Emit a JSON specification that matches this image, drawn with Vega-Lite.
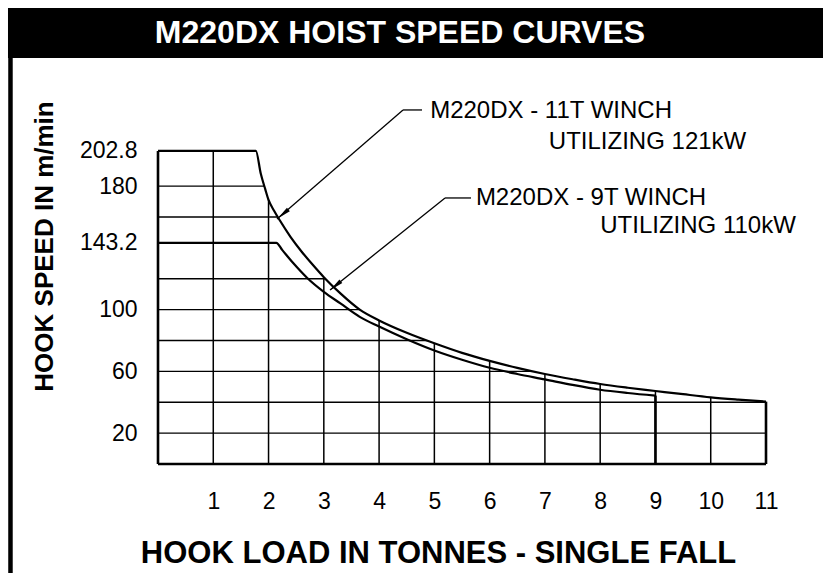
{
  "$schema": "https://vega.github.io/schema/vega-lite/v6.json",
  "width": 608,
  "height": 386,
  "autosize": {"type": "none"},
  "padding": {"left": 158, "top": 78, "right": 57, "bottom": 109},
  "background": "white",
  "config": {"view": {"stroke": null}, "font": "Liberation Sans"},
  "datasets": {
    "hgrid": [
      {"x": 0, "x2": 11, "y": 20}, {"x": 0, "x2": 11, "y": 40}, {"x": 0, "x2": 11, "y": 60},
      {"x": 0, "x2": 11, "y": 80}, {"x": 0, "x2": 11, "y": 100}, {"x": 0, "x2": 11, "y": 120},
      {"x": 0, "x2": 11, "y": 160}, {"x": 0, "x2": 11, "y": 180}
    ],
    "vgrid": [
      {"x": 1, "y": 0, "y2": 210}, {"x": 2, "y": 0, "y2": 210}, {"x": 3, "y": 0, "y2": 210},
      {"x": 4, "y": 0, "y2": 210}, {"x": 5, "y": 0, "y2": 210}, {"x": 6, "y": 0, "y2": 210},
      {"x": 7, "y": 0, "y2": 210}, {"x": 8, "y": 0, "y2": 210}, {"x": 9, "y": 0, "y2": 210},
      {"x": 10, "y": 0, "y2": 210}
    ],
    "c11": [
      {"x": 0, "y": 202.8}, {"x": 1.77, "y": 202.8}, {"x": 1.86, "y": 188}, {"x": 1.94, "y": 178},
      {"x": 2.0, "y": 171}, {"x": 2.1, "y": 164}, {"x": 2.2, "y": 158}, {"x": 2.4, "y": 147},
      {"x": 2.6, "y": 137.5}, {"x": 2.8, "y": 129}, {"x": 3.0, "y": 121}, {"x": 3.3, "y": 110.5},
      {"x": 3.65, "y": 100}, {"x": 4.0, "y": 93}, {"x": 4.5, "y": 85}, {"x": 5.0, "y": 78.2},
      {"x": 5.5, "y": 72}, {"x": 6.0, "y": 66.8}, {"x": 6.5, "y": 62.3}, {"x": 7.0, "y": 58.3},
      {"x": 7.5, "y": 54.9}, {"x": 8.0, "y": 51.8}, {"x": 8.5, "y": 49.4}, {"x": 9.0, "y": 47.3},
      {"x": 9.5, "y": 45.2}, {"x": 10.0, "y": 43.2}, {"x": 10.5, "y": 41.7}, {"x": 11.0, "y": 40.4}
    ],
    "c9": [
      {"x": 0, "y": 143.2}, {"x": 2.14, "y": 143.2}, {"x": 2.25, "y": 138.5}, {"x": 2.45, "y": 130},
      {"x": 2.7, "y": 120.5}, {"x": 3.0, "y": 111.5}, {"x": 3.3, "y": 104}, {"x": 3.65, "y": 95.3},
      {"x": 4.0, "y": 89}, {"x": 4.5, "y": 80.8}, {"x": 5.0, "y": 73.5}, {"x": 5.5, "y": 67.5},
      {"x": 6.0, "y": 62.3}, {"x": 6.5, "y": 58.3}, {"x": 7.0, "y": 54.8}, {"x": 7.5, "y": 51.2},
      {"x": 8.0, "y": 48.1}, {"x": 8.5, "y": 46}, {"x": 9.0, "y": 44.3}
    ],
    "frame": [
      {"x": 0, "y": 0, "x2": 0, "y2": 202.8},
      {"x": 0, "y": 0, "x2": 11, "y2": 0},
      {"x": 11, "y": 0, "x2": 11, "y2": 40.4},
      {"x": 9, "y": 0, "x2": 9, "y2": 44.3}
    ],
    "leaders": [
      {"x": 4.433, "y": 229.3, "x2": 4.777, "y2": 229.3},
      {"x": 4.433, "y": 229.3, "x2": 2.153, "y2": 158.7},
      {"x": 5.193, "y": 172.3, "x2": 5.663, "y2": 172.3},
      {"x": 5.193, "y": 172.3, "x2": 3.112, "y2": 112.7}
    ],
    "arrows": [
      {"x": 2.262, "y": 161.9},
      {"x": 3.211, "y": 115.5}
    ],
    "notes": [
      {"x": 7.111, "y": 228.6, "text": "M220DX - 11T WINCH"},
      {"x": 8.857, "y": 208.5, "text": "UTILIZING 121kW"},
      {"x": 7.834, "y": 172.3, "text": "M220DX - 9T WINCH"},
      {"x": 9.77, "y": 154.1, "text": "UTILIZING 110kW"}
    ],
    "banner": [{"x": -2.714, "x2": 12.1, "y": 263.0, "y2": 295.3}],
    "bannerText": [{"x": 4.378, "y": 279.1, "text": "M220DX HOIST SPEED CURVES"}],
    "border": [{"x": -2.669, "y": 263.0, "y2": -71}]
  },
  "encoding": {
    "x": {
      "field": "x", "type": "quantitative",
      "scale": {"domain": [0, 11], "nice": false, "zero": false},
      "axis": {
        "values": [1, 2, 3, 4, 5, 6, 7, 8, 9, 10, 11],
        "title": "HOOK LOAD IN TONNES - SINGLE FALL",
        "grid": false, "ticks": false, "domain": false,
        "labelFontSize": 23, "labelColor": "black", "labelPadding": 26,
        "labelFlush": false, "labelOverlap": false,
        "titleFontSize": 31, "titleFontWeight": "bold", "titleColor": "black",
        "titleX": 280, "titleY": 98, "titleBaseline": "alphabetic", "titleAlign": "center"
      }
    },
    "y": {
      "field": "y", "type": "quantitative",
      "scale": {"domain": [0, 250], "nice": false, "zero": false},
      "axis": {
        "values": [20, 60, 100, 143.2, 180, 202.8],
        "labelExpr": "toString(datum.value)",
        "title": "HOOK SPEED IN m/min",
        "grid": false, "ticks": false, "domain": false,
        "labelFontSize": 23, "labelColor": "black", "labelPadding": 21,
        "labelOverlap": false, "labelFlush": false,
        "titleFontSize": 26, "titleFontWeight": "bold", "titleColor": "black",
        "titleAngle": 270, "titleX": -114, "titleY": 168,
        "titleBaseline": "middle", "titleAlign": "center"
      }
    }
  },
  "layer": [
    {
      "data": {"name": "hgrid"},
      "mark": {"type": "rule", "color": "black", "strokeWidth": 1.4},
      "encoding": {"x2": {"field": "x2"}}
    },
    {
      "data": {"name": "vgrid"},
      "mark": {"type": "rule", "color": "black", "strokeWidth": 1.5},
      "encoding": {"y2": {"field": "y2"}}
    },
    {
      "data": {"name": "c11"},
      "mark": {"type": "area", "color": "white", "opacity": 1, "interpolate": "monotone"},
      "encoding": {"y2": {"datum": 250}}
    },
    {
      "data": {"name": "c9"},
      "mark": {"type": "line", "color": "black", "strokeWidth": 2.2, "interpolate": "monotone"},
      "encoding": {}
    },
    {
      "data": {"name": "c11"},
      "mark": {"type": "line", "color": "black", "strokeWidth": 2.2, "interpolate": "monotone"},
      "encoding": {}
    },
    {
      "data": {"name": "frame"},
      "mark": {"type": "rule", "color": "black", "strokeWidth": 2.6},
      "encoding": {"x2": {"field": "x2"}, "y2": {"field": "y2"}}
    },
    {
      "data": {"name": "leaders"},
      "mark": {"type": "rule", "color": "black", "strokeWidth": 1.3},
      "encoding": {"x2": {"field": "x2"}, "y2": {"field": "y2"}}
    },
    {
      "data": {"name": "arrows"},
      "mark": {"type": "point", "filled": true, "color": "black", "opacity": 1, "shape": "M0,-1L0.32,1L-0.32,1Z", "size": 196, "angle": 230},
      "encoding": {}
    },
    {
      "data": {"name": "notes"},
      "mark": {"type": "text", "fontSize": 24, "color": "black", "align": "center", "baseline": "middle"},
      "encoding": {"text": {"field": "text"}}
    },
    {
      "data": {"name": "banner"},
      "mark": {"type": "rect", "color": "black", "opacity": 1},
      "encoding": {"x2": {"field": "x2"}, "y2": {"field": "y2"}}
    },
    {
      "data": {"name": "bannerText"},
      "mark": {"type": "text", "fontSize": 32, "fontWeight": "bold", "color": "white", "align": "center", "baseline": "middle"},
      "encoding": {"text": {"field": "text"}}
    },
    {
      "data": {"name": "border"},
      "mark": {"type": "rule", "color": "black", "strokeWidth": 4.5},
      "encoding": {"y2": {"field": "y2"}}
    }
  ]
}
